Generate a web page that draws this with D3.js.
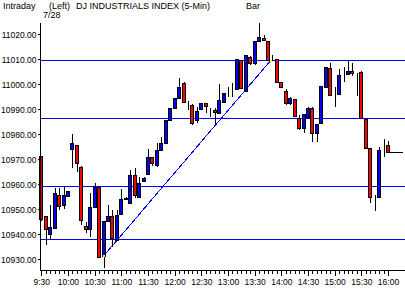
<!DOCTYPE html>
<html><head><meta charset="utf-8">
<script src="https://cdn.jsdelivr.net/npm/d3@7/dist/d3.min.js"></script>
<style>
html,body{margin:0;padding:0;background:#fff;}
svg{display:block;font-family:"Liberation Sans",Arial,sans-serif;}
</style></head><body>
<svg id="c" width="405" height="290"></svg>
<script>
// 5-minute bars, 9:30 .. 16:00 (minutes after 9:30 = index*5)
const opens  = [10971.3,10947.3,10940,10942.6,10955.6,10951.6,10955.3,10974.1,10975.7,10967,
                10943.4,10942.2,10950.8,10958.8,10931.3,10945.3,10947.4,10937.7,10948.1,10954,
                10952.6,10963.7,10954.8,10961.4,10964.1,10971,10967.7,10973.7,10976.4,10985.7,
                10990.4,10994.4,11000.6,10992.4,10991.7,10985.7,10990,10992.4,10990.2,10989.7,
                10988.4,10993,10996.4,10997.7,10998,11009.7,10997.4,11011,11008.4,11017.3,
                11018.4,11017.3,11009.7,11010,11000.8,10997.4,10992.4,10994,10986.6,10982.4,
                10987,10990.4,10980.4,10984.4,10999,11006.4,10996,10996,11004.7,11004.1,
                11005.4,11004.4,11005,10986.1,10974.4,10954.1,10954.8,10975,10975.7];
const highs  = [10971.5,10947.3,10951.7,10958.4,10958.4,10959,10957.2,10980.1,10975.7,10967.2,
                10945,10956.4,10960.4,10959.5,10945.3,10951.7,10949.7,10949.7,10958,10954.8,
                10965.7,10966.4,10963,10962.8,10974,10971,10976.4,10978.8,10985.7,10990.4,
                10994.4,11002.4,11000.8,10993.4,10992,10990.8,10992.6,10992.4,10990.4,10990.4,
                11000.1,10996.4,10999,11000.4,11010,11009.9,11011.8,11011.2,11017.3,11024.4,
                11019.7,11017.3,11011.7,11010,11000.8,10998,10995,10994,10987.7,10988,
                10991,10991,10984.1,10999.3,11006.8,11008.4,10999,11006,11007,11009.7,
                11008.4,11004.6,11005.2,10986.3,10974.4,10955.6,10975,10978,10977.4];
const lows   = [10945.5,10935.7,10938.1,10942.6,10949.7,10950.2,10955.3,10966.4,10965,10943.7,
                10940.5,10938.8,10950.8,10930.5,10926.4,10945.3,10935,10937.5,10948.1,10953.8,
                10952.6,10954.4,10954.8,10961.4,10964.1,10967.3,10967,10973.7,10976.4,10985.7,
                10990.4,10994.4,10993,10989.8,10983.7,10984.4,10990,10988.4,10987,10983.7,
                10988.4,10993,10995,10994.8,10997.8,10998.2,10997.2,11007.7,11007.7,11017.3,
                11017.2,11009.7,11009.5,11001,10998.6,10991.7,10991.7,10986.8,10981.7,10980.4,
                10986.5,10977,10977,10984.4,10999,10995.6,10991,10995.8,11001,11004,
                11003.3,10995.3,10986.3,10974.4,10952.4,10949.4,10954.8,10971,10972.4];
const closes = [10946,10942,10942.8,10956.4,10951.3,10955.6,10957.2,10976.6,10968.4,10945.7,
                10942,10950.8,10958.8,10931,10945.3,10947.4,10938.6,10947.7,10954,10954.6,
                10963.7,10955.6,10960.6,10962.4,10971,10968.4,10973.7,10976.4,10985.7,10990.4,
                10994.4,10999,10993,10992.4,10984.4,10989.4,10992.6,10991.3,10990.2,10988.9,
                10993.7,10996.4,10996.4,10997.7,11010,10998.4,11011.7,11008.4,11017.3,11019,
                11017.8,11009.7,11009.7,11001,10998.8,10992.6,10994.4,10987.4,10982.4,10988,
                10990.4,10980.6,10984.1,10999.3,11006.8,10995.6,10996,11003.7,11004.7,11005.4,
                11004.6,11004.4,10986.6,10974.6,10954.8,10954.1,10973.7,10975,10972.8];
// horizontal study lines (price levels)
const levels = [11009.6, 10986.4, 10959.2, 10938];
// trend line anchors: [minutes after 9:30, price]
const trendStart = [70, 10931.3];
const trendEnd   = [258, 11009.5];
const yTicks = [10930,10940,10950,10960,10970,10980,10990,11000,11010,11020];
const xTickLabels = ["9:30","10:00","10:30","11:00","11:30","12:00","12:30","13:00","13:30","14:00","14:30","15:00","15:30","16:00"];

const svg = d3.select("#c");
const x = d3.scaleLinear().domain([0, 390]).range([41.3, 388]);
const y = d3.scaleLinear().domain([10930, 11020]).range([259.3, 34.3]);
const plotLeft = 40.5, plotBottom = 270.5, plotTop = 23;

// header text
const hdr = svg.append("g").attr("font-size", "9px").attr("fill", "#000");
hdr.append("text").attr("x", 3).attr("y", 9).text("Intraday");
hdr.append("text").attr("x", 49).attr("y", 9).text("(Left)");
hdr.append("text").attr("x", 76).attr("y", 9).text("DJ INDUSTRIALS INDEX  (5-Min)");
hdr.append("text").attr("x", 246).attr("y", 9).text("Bar");
hdr.append("text").attr("x", 43).attr("y", 17.5).text("7/28");

// horizontal levels
svg.append("g").selectAll("line").data(levels).join("line")
  .attr("x1", plotLeft).attr("x2", 405)
  .attr("y1", d => Math.round(y(d)) + 0.5).attr("y2", d => Math.round(y(d)) + 0.5)
  .attr("stroke", "#0000ff").attr("stroke-width", 1).attr("shape-rendering", "crispEdges");

// trend line
svg.append("line")
  .attr("x1", x(trendStart[0])).attr("y1", y(trendStart[1]))
  .attr("x2", x(trendEnd[0])).attr("y2", y(trendEnd[1]))
  .attr("stroke", "#0000ff").attr("stroke-width", 1).attr("shape-rendering", "crispEdges");

// candles
const bars = opens.map((o, i) => ({m: i * 5, o, h: highs[i], l: lows[i], c: closes[i]}));
const g = svg.append("g").attr("shape-rendering", "crispEdges");
g.selectAll("line.w").data(bars).join("line").attr("class", "w")
  .attr("x1", d => Math.round(x(d.m)) + 0.5).attr("x2", d => Math.round(x(d.m)) + 0.5)
  .attr("y1", d => y(d.h)).attr("y2", d => y(d.l))
  .attr("stroke", "#000").attr("stroke-width", 1);
g.selectAll("rect").data(bars).join("rect")
  .attr("x", d => Math.round(x(d.m)) - 1.5)
  .attr("width", 3)
  .attr("y", d => Math.round(y(Math.max(d.o, d.c))) + 0.5)
  .attr("height", d => Math.max(0, Math.round(y(Math.min(d.o, d.c))) - Math.round(y(Math.max(d.o, d.c)))))
  .attr("fill", d => d.c > d.o ? "#0000ff" : (d.c < d.o ? "#ff0000" : "none"))
  .attr("stroke", "#000").attr("stroke-width", 1);

// last price line
const last = bars[bars.length - 1];
svg.append("line")
  .attr("x1", Math.round(x(last.m)) + 2).attr("x2", 403)
  .attr("y1", Math.round(y(last.c)) + 0.5).attr("y2", Math.round(y(last.c)) + 0.5)
  .attr("stroke", "#000").attr("stroke-width", 1).attr("shape-rendering", "crispEdges");

// trend line end markers
svg.append("g").selectAll("rect").data([trendStart, trendEnd]).join("rect")
  .attr("x", d => Math.round(x(d[0])) - 1).attr("y", d => Math.round(y(d[1])) - 1)
  .attr("width", 2).attr("height", 2).attr("fill", "#ffff00");

// y axis
const yAxis = d3.axisLeft(y).tickValues(yTicks).tickFormat(d3.format(".2f")).tickSize(3).tickSizeOuter(0);
const ya = svg.append("g").attr("transform", `translate(${plotLeft},0)`).call(yAxis);
ya.select(".domain").remove();
ya.selectAll("text").attr("font-size", "8.5px").attr("font-family", "Liberation Sans, Arial, sans-serif").attr("fill", "#000").attr("x", -4);
ya.selectAll("line").attr("stroke", "#000").attr("shape-rendering", "crispEdges");

// x axis: minor ticks every bar, major every 30 minutes
const xMinor = d3.axisBottom(x).tickValues(d3.range(0, 391, 5)).tickSize(3).tickFormat("").tickSizeOuter(0);
const xm = svg.append("g").attr("transform", `translate(0,${plotBottom})`).call(xMinor);
xm.select(".domain").remove();
xm.selectAll("line").attr("stroke", "#000").attr("shape-rendering", "crispEdges");
const xMajor = d3.axisBottom(x).tickValues(d3.range(0, 391, 30)).tickSize(5).tickSizeOuter(0)
  .tickFormat((d, i) => xTickLabels[i]);
const xa = svg.append("g").attr("transform", `translate(0,${plotBottom})`).call(xMajor);
xa.select(".domain").remove();
xa.selectAll("line").attr("stroke", "#000").attr("shape-rendering", "crispEdges");
xa.selectAll("text").attr("font-size", "8.5px").attr("font-family", "Liberation Sans, Arial, sans-serif").attr("fill", "#000").attr("y", 8);

// axis lines
svg.append("line").attr("x1", plotLeft).attr("x2", plotLeft).attr("y1", plotTop).attr("y2", plotBottom)
  .attr("stroke", "#000").attr("shape-rendering", "crispEdges");
svg.append("line").attr("x1", plotLeft).attr("x2", 405).attr("y1", plotBottom).attr("y2", plotBottom)
  .attr("stroke", "#000").attr("shape-rendering", "crispEdges");
</script>
</body></html>
